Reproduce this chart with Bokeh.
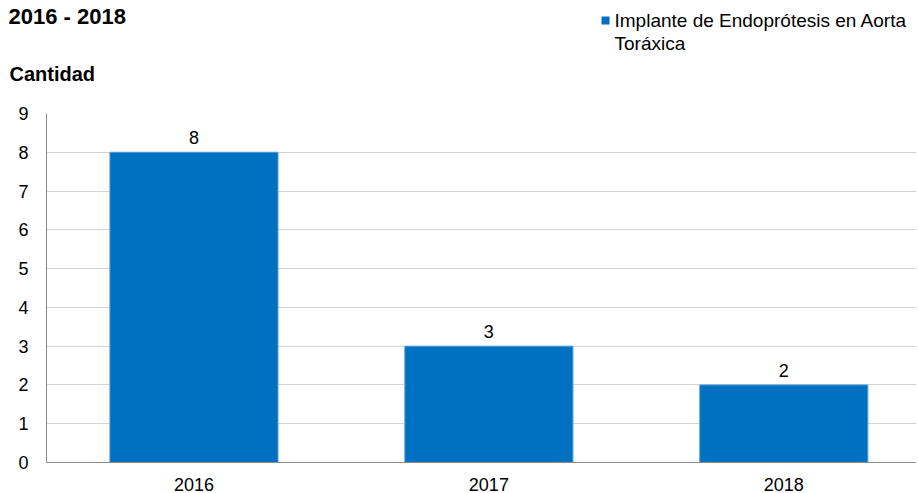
from bokeh.plotting import figure
from bokeh.models import ColumnDataSource, Range1d, FixedTicker, Label, LabelSet, BoxAnnotation
from bokeh.core.properties import value
from bokeh.layouts import column
from bokeh.embed import file_html
from bokeh.resources import INLINE

years = ["2016", "2017", "2018"]
values = [8, 3, 2]
series_line1 = "Implante de Endoprótesis en Aorta"
series_line2 = "Toráxica"
title_text = "2016 - 2018"
y_title = "Cantidad"
y_ticks = list(range(0, 10))

BAR_COLOR = "#0070C0"
FONT = "Liberation Sans"
W = 916

# ---------- header (title, legend, y-axis title) ----------
h = figure(width=W, height=100, output_backend="svg", toolbar_location=None,
           x_range=Range1d(0, W), y_range=Range1d(100, 0),
           min_border=0, min_border_left=0, min_border_right=0,
           min_border_top=0, min_border_bottom=0)
h.frame_align = False
h.axis.visible = False
h.grid.visible = False
h.outline_line_color = None

h.add_layout(Label(x=8, y=16, text=title_text, text_font=FONT, text_font_size="22px",
                   text_font_style="bold", text_baseline="alphabetic",
                   text_color="#000000"))
h.add_layout(Label(x=9, y=73, text=y_title, text_font=FONT, text_font_size="20px",
                   text_font_style="bold", text_baseline="alphabetic",
                   text_color="#000000"))
h.add_layout(BoxAnnotation(left=601, right=609, top=16, bottom=24,
                           fill_color=BAR_COLOR, fill_alpha=1, line_color=None))
h.add_layout(Label(x=614, y=20, text=series_line1, text_font=FONT, text_font_size="19px",
                   text_baseline="alphabetic", text_color="#000000"))
h.add_layout(Label(x=614, y=43, text=series_line2, text_font=FONT, text_font_size="19px",
                   text_baseline="alphabetic", text_color="#000000"))

# ---------- main chart ----------
xpos = [i + 0.5 for i in range(len(years))]
src = ColumnDataSource(dict(x=xpos, top=values, lab=[str(v) for v in values]))

p = figure(width=W, height=393, output_backend="svg", toolbar_location=None,
           x_range=Range1d(0, 2.95), y_range=Range1d(0, 9),
           min_border_left=46, min_border_right=0, min_border_top=13,
           min_border_bottom=31)
p.frame_align = False
p.outline_line_color = None

p.vbar(x="x", top="top", width=0.57, source=src, fill_color=BAR_COLOR,
       line_color="#4f9de0", line_width=1)

p.add_layout(LabelSet(x="x", y="top", text="lab", source=src, text_align="center",
                      text_baseline="alphabetic", y_offset=8,
                      text_font_size=value("18px"), text_font=value(FONT),
                      text_color="#000000"))

p.xaxis.ticker = FixedTicker(ticks=xpos)
p.xaxis.major_label_overrides = {x: y for x, y in zip(xpos, years)}
p.yaxis.ticker = FixedTicker(ticks=y_ticks)
for ax in (p.xaxis[0], p.yaxis[0]):
    ax.axis_line_color = "#8c8c8c"
    ax.axis_line_width = 1
    ax.major_tick_line_color = None
    ax.minor_tick_line_color = None
    ax.major_label_text_font = FONT
    ax.major_label_text_font_size = "18px"
    ax.major_label_text_color = "#000000"
p.xaxis.major_label_standoff = 9
p.yaxis.major_label_standoff = 12

p.xgrid.grid_line_color = None
p.ygrid.grid_line_color = "#a8a8a8"
p.ygrid.grid_line_dash = "1 1"
p.ygrid.grid_line_width = 1

layout = column(h, p, spacing=0)
open("out.html", "w").write(file_html(layout, INLINE))
